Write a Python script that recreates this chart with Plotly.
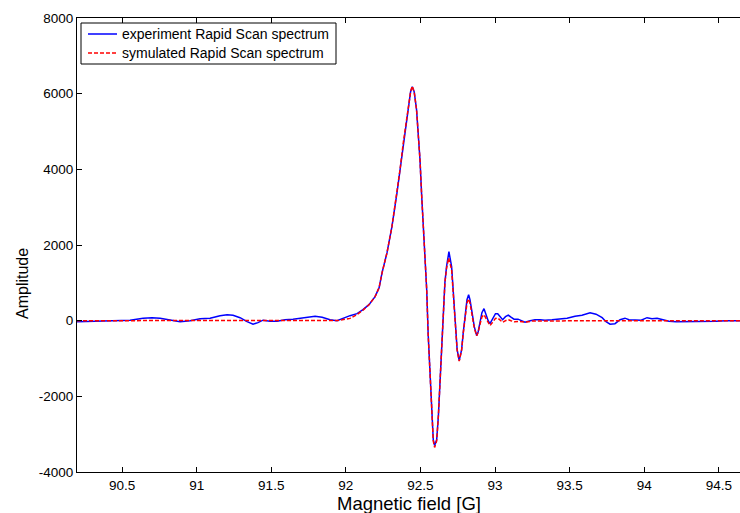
import plotly.graph_objects as go

# Measured rapid-scan EPR spectrum (field in G, amplitude in a.u.)
field_exp = [
    90.198, 90.286, 90.420, 90.554, 90.641, 90.701, 90.755, 90.822, 90.889, 90.956,
    91.023, 91.090, 91.157, 91.204, 91.244, 91.291, 91.338, 91.378, 91.411, 91.445,
    91.492, 91.539, 91.592, 91.646, 91.693, 91.740, 91.794, 91.841, 91.894, 91.941,
    91.981, 92.028, 92.075, 92.115, 92.155, 92.196, 92.223, 92.243, 92.276, 92.309,
    92.343, 92.363, 92.385, 92.403, 92.418, 92.434, 92.445, 92.458, 92.474, 92.486,
    92.497, 92.508, 92.519, 92.530, 92.542, 92.552, 92.564, 92.575, 92.586, 92.595,
    92.609, 92.620, 92.631, 92.642, 92.653, 92.664, 92.675, 92.691, 92.709, 92.720,
    92.731, 92.746, 92.760, 92.776, 92.787, 92.798, 92.812, 92.823, 92.832, 92.843,
    92.861, 92.877, 92.887, 92.899, 92.912, 92.926, 92.944, 92.954, 92.966, 92.988,
    93.003, 93.018, 93.033, 93.051, 93.070, 93.089, 93.107, 93.127, 93.154, 93.181,
    93.201, 93.235, 93.268, 93.302, 93.335, 93.382, 93.436, 93.483, 93.536, 93.583,
    93.637, 93.677, 93.718, 93.744, 93.771, 93.804, 93.838, 93.871, 93.898, 93.932,
    93.979, 94.019, 94.052, 94.086, 94.126, 94.166, 94.213, 94.280, 94.347, 94.414,
    94.481, 94.548, 94.642,
]
amp_exp = [
    -26, -13, 0, 13, 66, 79, 66, 13, -26, 0,
    53, 66, 132, 158, 145, 79, -26, -92, -53, 13,
    -13, -13, 26, 40, 66, 106, 119, 92, 26, 0,
    66, 132, 185, 290, 423, 634, 872, 1268, 1797, 2483,
    3382, 3989, 4703, 5205, 5627, 6050, 6182, 6050, 5575, 4967,
    4254, 3329, 2483, 1612, 819, -370, -1427, -2536, -3144, -3302,
    -3144, -2536, -1638, -766, 106, 1004, 1427, 1823, 1427, 819,
    106, -766, -1057, -766, -317, 106, 555, 687, 555, 290,
    -159, -396, -291, -53, 211, 317, 106, 0, -79, 79,
    185, 185, 106, 26, 106, 145, 92, 40, 40, -13,
    -40, 0, 26, 26, 13, 26, 40, 66, 119, 145,
    211, 172, 79, -26, -92, -79, 26, 66, 26, 13,
    13, 79, 53, 66, 26, -13, -26, -26, -13, -13,
    -13, 0, 0,
]

# Simulated rapid-scan spectrum
field_sim = [
    90.198, 90.600, 91.000, 91.400, 91.800, 91.950, 92.028, 92.075, 92.115, 92.155,
    92.196, 92.223, 92.243, 92.276, 92.309, 92.343, 92.363, 92.385, 92.403, 92.418,
    92.434, 92.445, 92.458, 92.474, 92.486, 92.497, 92.508, 92.519, 92.530, 92.542,
    92.552, 92.564, 92.575, 92.586, 92.595, 92.609, 92.620, 92.631, 92.642, 92.653,
    92.664, 92.675, 92.689, 92.709, 92.720, 92.731, 92.746, 92.760, 92.776, 92.787,
    92.798, 92.812, 92.823, 92.832, 92.843, 92.861, 92.877, 92.887, 92.899, 92.912,
    92.926, 92.944, 92.954, 92.966, 92.988, 93.003, 93.018, 93.033, 93.051, 93.070,
    93.089, 93.107, 93.130, 93.160, 93.200, 93.250, 93.400, 93.700, 94.000, 94.300,
    94.642,
]
amp_sim = [
    0, 0, 0, 0, 0, 5, 60, 160, 280, 420,
    634, 872, 1268, 1797, 2483, 3382, 3989, 4703, 5205, 5627,
    6050, 6200, 6050, 5575, 4967, 4254, 3329, 2483, 1612, 819,
    -370, -1427, -2536, -3180, -3350, -3180, -2536, -1638, -766, 106,
    1004, 1380, 1656, 1350, 780, 90, -780, -1070, -780, -330,
    60, 470, 573, 470, 220, -200, -400, -310, -100, 100,
    158, 20, -80, -132, -20, 60, 70, 10, -45, 0,
    26, 0, -30, -20, -40, -10, 0, 0, 0, 0,
    0,
]

x_ticks = [90.5, 91, 91.5, 92, 92.5, 93, 93.5, 94, 94.5]
x_tick_text = ["90.5", "91", "91.5", "92", "92.5", "93", "93.5", "94", "94.5"]
y_ticks = [-4000, -2000, 0, 2000, 4000, 6000, 8000]
y_tick_text = ["-4000", "-2000", "0", "2000", "4000", "6000", "8000"]

series_names = ["experiment Rapid Scan spectrum", "symulated Rapid Scan spectrum"]
series_colors = ["#0000ff", "#ff0000"]
series_dash = ["solid", "4px,2px"]

# Figure geometry (pixels)
W, H = 740, 513
ML, MR, MT, MB = 77, 0, 18, 41
PW, PH = W - ML - MR, H - MT - MB


def px_x(p):
    """Horizontal pixel position -> paper coordinate."""
    return (p - ML) / PW


def px_y(p):
    """Vertical pixel position -> paper coordinate."""
    return (H - MB - p) / PH


font_family = "Liberation Sans, Arial, sans-serif"

fig = go.Figure()
fig.add_trace(go.Scatter(
    x=field_exp, y=amp_exp, mode="lines", name=series_names[0],
    line=dict(color=series_colors[0], width=1.5, dash=series_dash[0]),
))
fig.add_trace(go.Scatter(
    x=field_sim, y=amp_sim, mode="lines", name=series_names[1],
    line=dict(color=series_colors[1], width=1.5, dash=series_dash[1]),
))

# Boxed legend in the upper-left corner of the axes
shapes = [dict(
    type="rect", xref="paper", yref="paper",
    x0=px_x(81), x1=px_x(336), y0=px_y(64), y1=px_y(23),
    line=dict(color="black", width=1), fillcolor="white", layer="above",
)]
annotations = []
for i, (name, col, dash) in enumerate(zip(series_names, series_colors, series_dash)):
    ypx = 34 + 19 * i
    shapes.append(dict(
        type="line", xref="paper", yref="paper",
        x0=px_x(88), x1=px_x(117), y0=px_y(ypx), y1=px_y(ypx),
        line=dict(color=col, width=1.5, dash=dash), layer="above",
    ))
    annotations.append(dict(
        text=name, xref="paper", yref="paper", x=px_x(120), y=px_y(ypx),
        xanchor="left", yanchor="middle", showarrow=False,
        font=dict(size=14, color="black"),
    ))

# Axis titles
annotations.append(dict(
    text="Magnetic field [G]", xref="paper", yref="paper",
    x=0.5, y=px_y(503), xanchor="center", yanchor="middle", showarrow=False,
    font=dict(size=18.5, color="black"),
))
annotations.append(dict(
    text="Amplitude", xref="paper", yref="paper", textangle=-90,
    x=px_x(22), y=px_y(284), xanchor="center", yanchor="middle", showarrow=False,
    font=dict(size=16, color="black"),
))

fig.update_layout(
    width=W, height=H,
    margin=dict(l=ML, r=MR, t=MT, b=MB),
    paper_bgcolor="white", plot_bgcolor="white",
    font=dict(family=font_family, size=13.5, color="black"),
    showlegend=False,
    shapes=shapes, annotations=annotations,
    xaxis=dict(
        range=[90.198, 94.642], tickvals=x_ticks, ticktext=x_tick_text,
        ticks="inside", ticklen=5, tickcolor="black",
        tickfont=dict(size=13.5), ticklabelstandoff=1,
        showline=True, linecolor="black", linewidth=1, mirror="ticks",
        showgrid=False, zeroline=False, automargin=False,
    ),
    yaxis=dict(
        range=[-4000, 8000], tickvals=y_ticks, ticktext=y_tick_text,
        ticks="inside", ticklen=5, tickcolor="black",
        tickfont=dict(size=13.5),
        showline=True, linecolor="black", linewidth=1,
        showgrid=False, zeroline=False, automargin=False,
    ),
)

fig.write_html("out.html")
